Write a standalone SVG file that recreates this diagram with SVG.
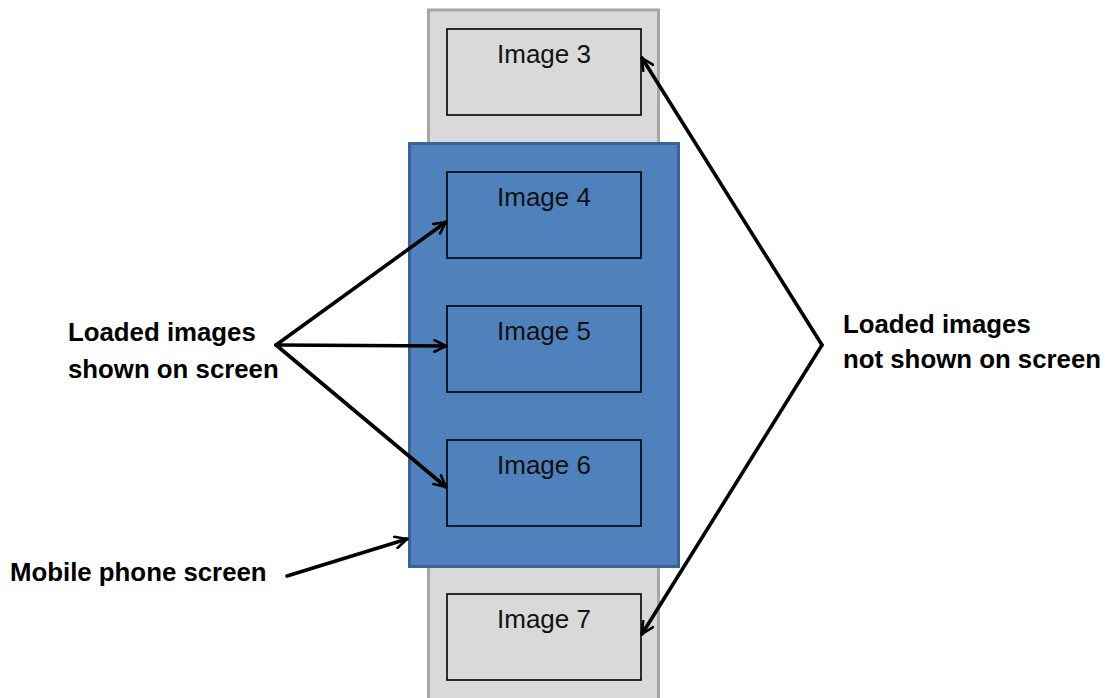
<svg xmlns="http://www.w3.org/2000/svg" width="1108" height="698" viewBox="0 0 1108 698">
  <style>
    .strip { fill: #d9d9d9; stroke: #a6a6a6; stroke-width: 3; }
    .screen { fill: #4f81bd; stroke: #3b6391; stroke-width: 3; }
    .img-box { stroke: #000; stroke-width: 1.6; }
    .img-off { fill: #d9d9d9; }
    .img-on { fill: #4f81bd; }
    .img-label { font-family: "Liberation Sans", Arial, sans-serif; font-size: 26px; fill: #111; text-anchor: middle; }
    .note { font-family: "Liberation Sans", Arial, sans-serif; font-size: 25.8px; font-weight: bold; fill: #000; }
    .conn { fill: none; stroke: #000; stroke-width: 3.6; stroke-linecap: round; stroke-linejoin: round; }
  </style>
  <defs>
    <marker id="open-arrow" viewBox="0 0 12 12" refX="11" refY="6" markerWidth="14" markerHeight="14" markerUnits="userSpaceOnUse" orient="auto">
      <path d="M1,1 L11,6 L1,11" fill="none" stroke="#000" stroke-width="2.2" stroke-linecap="round" stroke-linejoin="round"/>
    </marker>
  </defs>

  <rect width="1108" height="698" fill="#fff"/>

  <!-- scrolling strip of loaded images -->
  <g id="strip">
    <rect class="strip" x="428.5" y="10" width="230" height="700"/>
  </g>

  <g id="image3">
    <rect class="img-box img-off" x="447" y="29" width="194" height="86"/>
    <text class="img-label" x="544" y="63">Image 3</text>
  </g>

  <g id="image7">
    <rect class="img-box img-off" x="447" y="594" width="194" height="86"/>
    <text class="img-label" x="544" y="628">Image 7</text>
  </g>

  <!-- visible phone screen -->
  <g id="screen">
    <rect class="screen" x="409.5" y="143.5" width="269" height="423"/>
  </g>

  <g id="image4">
    <rect class="img-box img-on" x="447" y="172" width="194" height="86"/>
    <text class="img-label" x="544" y="206">Image 4</text>
  </g>

  <g id="image5">
    <rect class="img-box img-on" x="447" y="306" width="194" height="86"/>
    <text class="img-label" x="544" y="340">Image 5</text>
  </g>

  <g id="image6">
    <rect class="img-box img-on" x="447" y="440" width="194" height="86"/>
    <text class="img-label" x="544" y="474">Image 6</text>
  </g>

  <!-- labels -->
  <g id="label-shown">
    <text class="note" x="68" y="341">Loaded images</text>
    <text class="note" x="68" y="378">shown on screen</text>
  </g>

  <g id="label-hidden">
    <text class="note" x="843" y="333">Loaded images</text>
    <text class="note" x="843" y="368">not shown on screen</text>
  </g>

  <g id="label-screen">
    <text class="note" x="10" y="581">Mobile phone screen</text>
  </g>

  <!-- connectors -->
  <g id="connectors">
    <path class="conn" d="M276,345 L446,222" marker-end="url(#open-arrow)"/>
    <path class="conn" d="M276,345 L446,346" marker-end="url(#open-arrow)"/>
    <path class="conn" d="M276,345 L446,487" marker-end="url(#open-arrow)"/>
    <path class="conn" d="M822,345 L642,58" marker-end="url(#open-arrow)"/>
    <path class="conn" d="M822,345 L642,634" marker-end="url(#open-arrow)"/>
    <path class="conn" d="M287,576 Q345,558 407,539" marker-end="url(#open-arrow)"/>
  </g>
</svg>
